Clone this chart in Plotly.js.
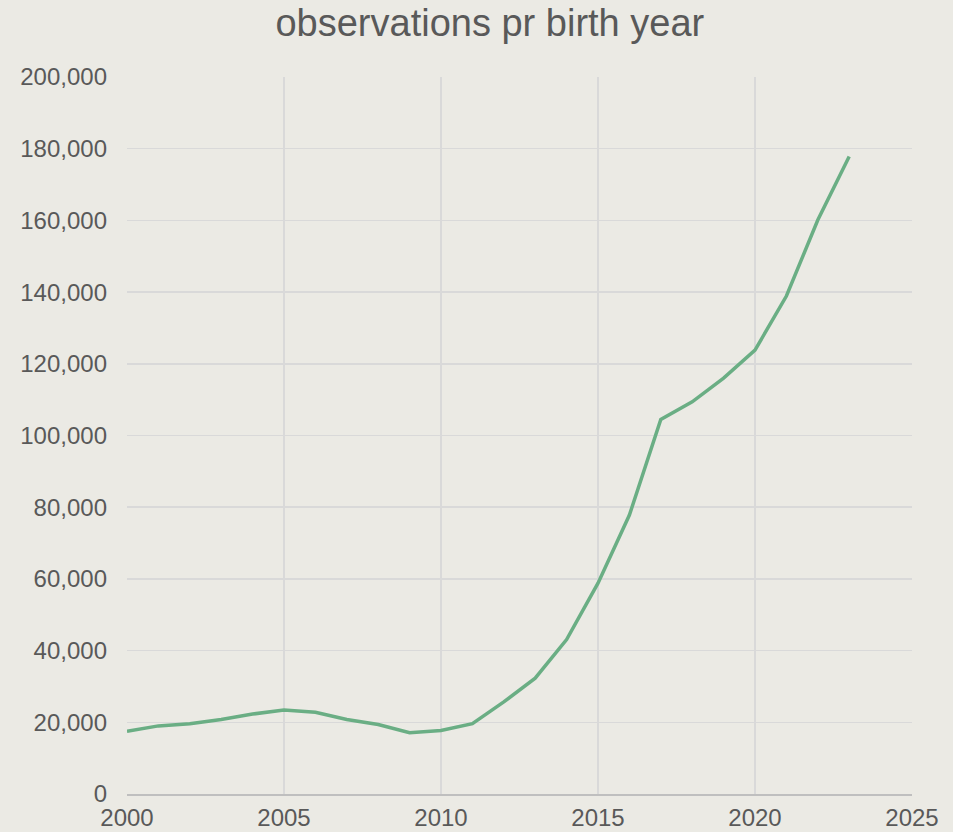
<!DOCTYPE html>
<html>
<head>
<meta charset="utf-8">
<script src="https://cdn.plot.ly/plotly-3.0.1.min.js"></script>
<style>html,body{margin:0;padding:0;background:#EBEAE4;}#chart{width:953px;height:832px;}</style>
</head>
<body>
<div id="chart"></div>
<script>
const years = [2000,2001,2002,2003,2004,2005,2006,2007,2008,2009,2010,2011,2012,2013,2014,2015,2016,2017,2018,2019,2020,2021,2022,2023];
const observations = [17500,19000,19600,20800,22300,23400,22800,20800,19400,17100,17700,19600,25700,32300,43100,58800,77800,104500,109400,116000,123800,138900,160100,177800];
const chartTitle = "observations pr birth year";

const trace = {
  x: years, y: observations, type: 'scatter', mode: 'lines',
  line: {color: '#6AAE84', width: 3.5}, hoverinfo: 'x+y'
};
const fnt = {family: 'Liberation Sans, Arial, sans-serif', size: 24, color: '#595959'};
const layout = {
  width: 953, height: 832,
  paper_bgcolor: '#EBEAE4', plot_bgcolor: '#EBEAE4',
  margin: {l: 127, r: 41, t: 77, b: 38},
  showlegend: false,
  title: {text: chartTitle, font: {family: 'Liberation Sans, Arial, sans-serif', size: 38, color: '#595959'},
          xref: 'container', x: 0.514, xanchor: 'center', yref: 'container', y: 1 - 23/832, yanchor: 'middle'},
  xaxis: {range: [2000, 2025], dtick: 5, tick0: 2000, showgrid: true, gridcolor: '#D9D9D9', gridwidth: 1.5,
          zeroline: false, showline: true, linecolor: '#BFBFBF', linewidth: 1.5, ticks: '', tickfont: fnt,
          ticklabelstandoff: 2, fixedrange: true},
  yaxis: {range: [0, 200000], dtick: 20000, tickformat: ',', showgrid: true, gridcolor: '#D9D9D9', gridwidth: 1.5,
          zeroline: false, showline: false, ticks: '', tickfont: fnt, ticklabelstandoff: 19, fixedrange: true}
};
Plotly.newPlot('chart', [trace], layout, {displayModeBar: false, staticPlot: true});
</script>
</body>
</html>
